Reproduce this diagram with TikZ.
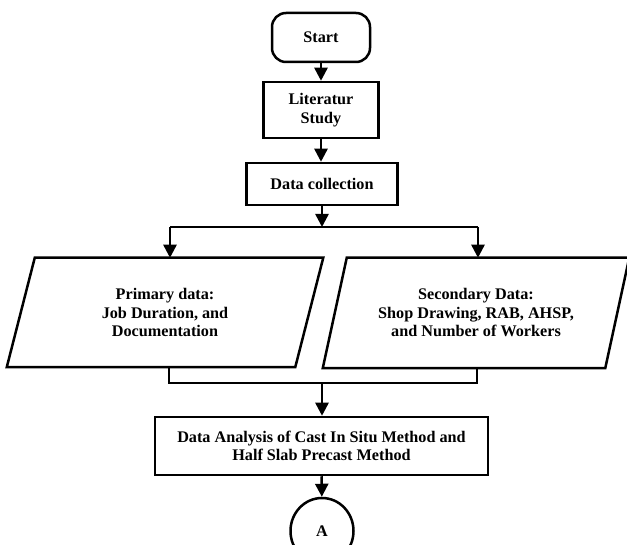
\documentclass[tikz,border=0pt]{standalone}
\usepackage{fontspec}
\setmainfont{Liberation Serif}
\usetikzlibrary{arrows.meta,shapes.geometric}
\begin{document}
\begin{tikzpicture}[x=1pt,y=-1pt,
  line width=2.5pt,
  every node/.style={font=\bfseries\fontsize{16.2}{18.5}\selectfont, align=center, inner sep=0pt},
  box/.style={draw, rectangle},
  startbox/.style={draw, rectangle, rounded corners=14pt},
  conn/.style={-{Triangle[width=13pt,length=13pt]}},
  ]
\useasboundingbox (0,0) rectangle (627,545);
\clip (0,0) rectangle (627,545);

\node[startbox, minimum width=98pt, minimum height=49pt] (start) at (321,37.5) {Start};
\node[box, minimum width=115pt, minimum height=56pt] (lit) at (321,110) {Literatur\\Study};
\node[box, minimum width=151pt, minimum height=42pt] (dc) at (322,184) {Data collection};

\node[minimum width=286pt, minimum height=107pt] (p1) at (165,312.5) {Primary data:\\Job Duration, and\\Documentation};
\draw ([xshift=-14pt]p1.south west) -- ([xshift=-14pt]p1.south east) -- ([xshift=14pt]p1.north east) -- ([xshift=14pt]p1.north west) -- cycle;

\node[minimum width=280pt, minimum height=108pt] (p2) at (476,313) {Secondary Data:\\Shop Drawing, RAB, AHSP,\\and Number of Workers};
\draw ([xshift=-12pt]p2.south west) -- ([xshift=-12pt]p2.south east) -- ([xshift=12pt]p2.north east) -- ([xshift=12pt]p2.north west) -- cycle;

\node[box, minimum width=333pt, minimum height=58pt] (da) at (321.5,446) {Data Analysis of Cast In Situ Method and\\Half Slab Precast Method};
\node[draw, ellipse, minimum width=63pt, minimum height=66pt] (a) at (322,531) {A};

\coordinate (br) at (322,227);
\coordinate (bl) at (170,227);
\coordinate (brr) at (478,227);
\coordinate (ml) at (169,383);
\coordinate (mr) at (477,383);
\coordinate (mm) at (322,383);

\draw[conn] (start) -- (lit);
\draw[conn] (lit) -- (lit |- dc.north);
\draw[conn] (dc) -- (br);
\draw (bl) -- (brr);
\draw[conn] (bl) -- (bl |- p1.north);
\draw[conn] (brr) -- (brr |- p2.north);
\draw (ml |- p1.south) -- (ml) -- (mr) -- (mr |- p2.south);
\draw[conn] (mm) -- (mm |- da.north);
\draw[conn] (da) -- (a);
\end{tikzpicture}
\end{document}
